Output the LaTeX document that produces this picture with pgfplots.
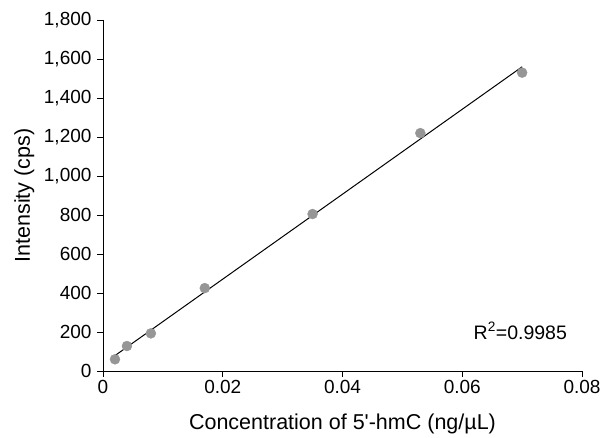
\documentclass[border=0pt]{standalone}
\usepackage{pgfplots}
\pgfplotsset{compat=1.18}
\usepackage{fontspec}
\setmainfont{Liberation Sans}

\definecolor{dotgray}{RGB}{150,150,150}

\begin{document}
\begin{tikzpicture}
\useasboundingbox (-103pt,-67pt) rectangle (502pt,371pt);
\begin{axis}[
    at={(0,0)}, anchor=south west,
    width=479pt, height=351pt, scale only axis,
    xmin=0, xmax=0.08, ymin=0, ymax=1800,
    axis lines=left, axis line style={-, line width=0.9pt},
    xtick={0,0.02,0.04,0.06,0.08},
    ytick={0,200,...,1800},
    scaled ticks=false,
    tick align=outside, tick style={black, line width=0.9pt},
    major tick length=6pt,
    /pgf/number format/assume math mode=true,
    /pgf/number format/1000 sep={,},
    xticklabel style={/pgf/number format/fixed, /pgf/number format/precision=2},
    yticklabel style={xshift=-2pt},
    tick label style={font=\fontsize{19}{20}\selectfont},
    label style={font=\fontsize{21.5}{24}\selectfont},
    xlabel={Concentration of 5\textquotesingle-hmC (ng/µL)},
    ylabel={Intensity (cps)},
    xlabel style={at={(axis description cs:0.5,-0.168)}, anchor=base},
    ylabel style={at={(axis description cs:-0.1524,0.5)}, anchor=base},
    clip=false,
]
% fitted line
\addplot[black, line width=1pt] coordinates {(0.002,79) (0.07,1560)};
% measured points
\addplot[only marks, mark=*, mark size=5pt, dotgray, mark options={draw=dotgray, fill=dotgray}]
    coordinates {
    (0.002,60) (0.004,128) (0.008,193) (0.017,425)
    (0.035,805) (0.053,1220) (0.070,1530)
    };
\node[font=\fontsize{19.5}{22}\selectfont, anchor=base] at (axis cs:0.0697,164) {R\textsuperscript{2}=0.9985};
\end{axis}
\end{tikzpicture}
\end{document}
